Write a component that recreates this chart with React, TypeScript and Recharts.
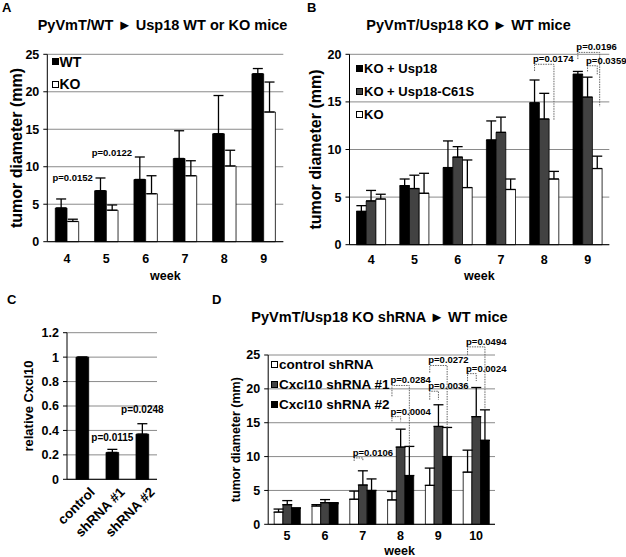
import React from 'react'
import { BarChart, Bar, XAxis, YAxis, CartesianGrid, ErrorBar, LabelList } from 'recharts'

const FONT = '"Liberation Sans", Arial, Helvetica, sans-serif'
const GRID = '#8a8a8a'
const DARK = '#424242'

// A: PyVmT/WT into Usp18 WT or KO mice
const weeksA = ['4', '5', '6', '7', '8', '9']
const wtA = [4.5, 6.8, 8.3, 11.1, 14.4, 22.4]
const wtErrA = [1.2, 1.7, 3.0, 3.7, 5.1, 0.7]
const koA = [2.7, 4.2, 6.4, 8.8, 10.1, 17.3]
const koErrA = [0.3, 0.7, 2.4, 2.0, 2.1, 4.0]

// B: PyVmT/Usp18 KO into WT mice
const weeksB = ['4', '5', '6', '7', '8', '9']
const usp18B = [3.5, 6.2, 8.1, 11.0, 14.9, 17.9]
const usp18ErrB = [0.6, 0.7, 2.8, 2.0, 2.4, 0.3]
const c61sB = [4.6, 5.9, 9.2, 11.8, 13.2, 15.5]
const c61sErrB = [1.1, 1.4, 1.1, 1.6, 2.7, 2.1]
const koB = [4.8, 5.4, 6.0, 5.8, 6.9, 8.0]
const koErrB = [0.5, 2.1, 2.9, 1.1, 0.8, 1.3]

// C: relative Cxcl10
const groupsC = ['control', 'shRNA #1', 'shRNA #2']
const cxcl10C = [1.0, 0.22, 0.37]
const cxcl10ErrC = [0, 0.025, 0.085]

// D: PyVmT/Usp18 KO shRNA into WT mice
const weeksD = ['5', '6', '7', '8', '9', '10']
const ctrlD = [1.8, 2.7, 3.7, 3.6, 5.75, 7.7]
const ctrlErrD = [0.45, 0.2, 1.2, 1.25, 2.55, 3.25]
const sh1D = [2.9, 3.2, 5.8, 11.4, 14.45, 15.9]
const sh1ErrD = [0.6, 0.45, 2.1, 2.65, 3.2, 4.3]
const sh2D = [2.4, 3.05, 5.0, 7.2, 10.0, 12.4]
const sh2ErrD = [0, 0.15, 1.7, 4.3, 4.3, 4.5]

type Bracket = { cat: string; from: number; to: number; top: number; fromEnd: number; toEnd: number; text: string }
type Note = { cat: string; slot: number; y: number; text: string; anchor: 'start' | 'middle' }

const notesA: Note[] = [
  { cat: '4', slot: -0.75, y: 8.1, text: 'p=0.0152', anchor: 'start' },
  { cat: '5', slot: -0.75, y: 11.45, text: 'p=0.0122', anchor: 'start' },
]

const bracketsB: Bracket[] = [
  { cat: '8', from: 0, to: 2, top: 18.95, fromEnd: 18.25, toEnd: 13.1, text: 'p=0.0174' },
  { cat: '9', from: 0, to: 2.25, top: 20.2, fromEnd: 19.5, toEnd: 14.5, text: 'p=0.0196' },
  { cat: '9', from: 1, to: 2, top: 18.8, fromEnd: 18.2, toEnd: 17.8, text: 'p=0.0359' },
]

const notesC: Note[] = [
  { cat: 'shRNA #1', slot: 0, y: 0.314, text: 'p=0.0115', anchor: 'middle' },
  { cat: 'shRNA #2', slot: 0, y: 0.54, text: 'p=0.0248', anchor: 'middle' },
]

const bracketsD: Bracket[] = [
  { cat: '7', from: 0, to: 1, top: 9.8, fromEnd: 9.35, toEnd: 9.35, text: 'p=0.0106' },
  { cat: '8', from: 0, to: 1, top: 15.9, fromEnd: 15.2, toEnd: 15.2, text: 'p=0.0004' },
  { cat: '8', from: 0, to: 2, top: 20.5, fromEnd: 18.9, toEnd: 11.5, text: 'p=0.0284' },
  { cat: '9', from: 0, to: 1, top: 19.65, fromEnd: 18.4, toEnd: 18.4, text: 'p=0.0036' },
  { cat: '9', from: 0, to: 2, top: 23.45, fromEnd: 22.4, toEnd: 14.3, text: 'p=0.0272' },
  { cat: '10', from: 0, to: 1, top: 22.25, fromEnd: 21.15, toEnd: 21.15, text: 'p=0.0024' },
  { cat: '10', from: 0, to: 2, top: 26.2, fromEnd: 25.0, toEnd: 16.95, text: 'p=0.0494' },
]

const rowsA = weeksA.map((cat, i) => ({
  cat, wt: wtA[i], wtErr: [0, wtErrA[i]], ko: koA[i], koErr: [0, koErrA[i]],
}))
const rowsB = weeksB.map((cat, i) => ({
  cat,
  usp18: usp18B[i], usp18Err: [0, usp18ErrB[i]],
  c61s: c61sB[i], c61sErr: [0, c61sErrB[i]],
  ko: koB[i], koErr: [0, koErrB[i]],
}))
const rowsC = groupsC.map((cat, i) => ({ cat, val: cxcl10C[i], valErr: [0, cxcl10ErrC[i]] }))
const rowsD = weeksD.map((cat, i) => ({
  cat,
  ctrl: ctrlD[i], ctrlErr: [0, ctrlErrD[i]],
  sh1: sh1D[i], sh1Err: [0, sh1ErrD[i]],
  sh2: sh2D[i], sh2Err: [0, sh2ErrD[i]],
}))

// draws p-value notes and dotted brackets, positioned from the first bar of each group
function annotate(rows: any[], key: string, brackets: Bracket[], notes: Note[], size: number) {
  return (props: any) => {
    const vb = props.viewBox || props
    const row = rows.find(r => r.cat === props.value)
    if (!row || !vb || vb.height == null) return null
    const base = vb.y + vb.height
    const k = vb.height / row[key]
    const yOf = (v: number) => base - v * k
    const xOf = (s: number) => vb.x + vb.width * (s + 0.5)
    const txt = { fontSize: size, fontWeight: 'bold' as const, fontFamily: FONT, fill: '#000' }
    const out: React.ReactNode[] = []
    brackets.filter(b => b.cat === row.cat).forEach((b, i) => {
      const x1 = xOf(b.from)
      const x2 = xOf(b.to)
      const yt = yOf(b.top)
      out.push(
        <path key={'b' + i} d={`M${x1},${yOf(b.fromEnd)}V${yt}H${x2}V${yOf(b.toEnd)}`}
          fill="none" stroke="#666" strokeWidth={1} strokeDasharray="1.5 1" />
      )
      out.push(<text key={'bt' + i} x={x1 - 1.5} y={yt - 2} {...txt}>{b.text}</text>)
    })
    notes.filter(n => n.cat === row.cat).forEach((n, i) => {
      out.push(<text key={'n' + i} x={xOf(n.slot)} y={yOf(n.y)} textAnchor={n.anchor} {...txt}>{n.text}</text>)
    })
    return <g>{out}</g>
  }
}

const tickStyle = { fontSize: 12.5, fontWeight: 'bold', fill: '#000', fontFamily: FONT }
const axisLine = { stroke: '#000', strokeWidth: 1 }

function yLabel(value: string, offset: number, size: number) {
  return {
    value, angle: -90, position: 'insideLeft', offset,
    style: { textAnchor: 'middle', fontSize: size, fontWeight: 'bold', fill: '#000', fontFamily: FONT },
  } as any
}
function weekLabel(offset: number, dx = 0) {
  return {
    value: 'week', position: 'insideBottom', offset, dx,
    style: { fontSize: 12.5, fontWeight: 'bold', fill: '#000', fontFamily: FONT },
  } as any
}

// axis line with category-boundary tick marks (Excel style); the category axis sits right under it
function edgeAxis(n: number) {
  return (
    <XAxis xAxisId="a" type="number" domain={[0, n]} ticks={Array.from({ length: n + 1 }, (_, i) => i)}
      interval={0} height={1} axisLine={axisLine} tickLine={{ stroke: '#000' }} tickSize={4} tick={false} />
  )
}

function Legend({ items, left, top, gap, size }: { items: { label: string; fill: string }[]; left: number; top: number; gap: number; size: number }) {
  return (
    <div style={{ position: 'absolute', left, top, fontSize: size, fontWeight: 'bold', fontFamily: FONT }}>
      {items.map(it => (
        <div key={it.label} style={{ height: gap, lineHeight: gap + 'px', display: 'flex', alignItems: 'center', whiteSpace: 'nowrap' }}>
          <span style={{ display: 'inline-block', width: 5, height: 5, background: it.fill, border: '0.8px solid #000', marginRight: 1 }} />
          {it.label}
        </div>
      ))}
    </div>
  )
}

function Title({ text, cx, cy }: { text: string; cx: number; cy: number }) {
  return (
    <div style={{ position: 'absolute', left: cx - 160, top: cy - 9, width: 320, textAlign: 'center', fontSize: 14.5, lineHeight: '18px', fontWeight: 'bold', fontFamily: FONT, whiteSpace: 'nowrap' }}>
      {text}
    </div>
  )
}

function Letter({ text, left, top }: { text: string; left: number; top: number }) {
  return (
    <div style={{ position: 'absolute', left, top, fontSize: 13, lineHeight: '13px', fontWeight: 'bold', fontFamily: FONT }}>{text}</div>
  )
}

function RotTick(props: any) {
  const { x, y, payload } = props
  const px = x + 7
  const py = y + 3
  return (
    <text x={px} y={py} transform={`rotate(-45, ${px}, ${py})`} textAnchor="end" dy="0.7em" {...tickStyle} fontSize={13.5}>
      {payload.value}
    </text>
  )
}

const catAxis = { xAxisId: 'b', dataKey: 'cat', tickLine: false, tickSize: 0, axisLine: false } as any

export default function App() {
  return (
    <div style={{ position: 'fixed', left: 0, top: 0, width: 626, height: 557, background: '#fff', fontFamily: FONT, overflow: 'hidden' }}>
      <Letter text="A" left={2} top={1} />
      <Letter text="B" left={307} top={1} />
      <Letter text="C" left={7} top={293} />
      <Letter text="D" left={212} top={293} />

      <Title text="PyVmT/WT ► Usp18 WT or KO mice" cx={162.5} cy={25} />
      <Title text="PyVmT/Usp18 KO ► WT mice" cx={468.5} cy={25} />
      <Title text="PyVmT/Usp18 KO shRNA ► WT mice" cx={379.5} cy={317} />

      <div style={{ position: 'absolute', left: 0, top: 0 }}>
        <BarChart width={300} height={290} data={rowsA} margin={{ top: 54.3, right: 16.7, left: 0, bottom: 8.3 }} barGap={0} barSize={11.7}>
          <CartesianGrid xAxisId="b" vertical={false} stroke={GRID} />
          {edgeAxis(weeksA.length)}
          <XAxis {...catAxis} height={39} tickMargin={11} tick={tickStyle} label={weekLabel(2.2)} />
          <YAxis width={47.3} domain={[0, 25]} ticks={[0, 5, 10, 15, 20, 25]} tickSize={4} tickMargin={4} axisLine={axisLine} tickLine={axisLine} tick={tickStyle} label={yLabel('tumor diameter (mm)', 16, 16)} />
          <Bar xAxisId="b" dataKey="wt" fill="#000" stroke="#000" strokeWidth={0.8} isAnimationActive={false}>
            <ErrorBar dataKey="wtErr" width={5} stroke="#000" strokeWidth={1.3} />
            <LabelList dataKey="cat" content={annotate(rowsA, 'wt', [], notesA, 9.5)} />
          </Bar>
          <Bar xAxisId="b" dataKey="ko" fill="#fff" stroke="#000" strokeWidth={0.8} isAnimationActive={false}>
            <ErrorBar dataKey="koErr" width={5} stroke="#000" strokeWidth={1.3} />
          </Bar>
        </BarChart>
      </div>
      <Legend items={[{ label: 'WT', fill: '#000' }, { label: 'KO', fill: '#fff' }]} left={51.5} top={50.5} gap={22.6} size={14} />

      <div style={{ position: 'absolute', left: 300, top: 0 }}>
        <BarChart width={326} height={290} data={rowsB} margin={{ top: 54.3, right: 16.7, left: 0, bottom: 5.3 }} barGap={0} barSize={9.7}>
          <CartesianGrid xAxisId="b" vertical={false} stroke={GRID} />
          {edgeAxis(weeksB.length)}
          <XAxis {...catAxis} height={39} tickMargin={9} tick={tickStyle} label={weekLabel(5.2)} />
          <YAxis width={49.5} domain={[0, 20]} ticks={[0, 5, 10, 15, 20]} tickSize={4} tickMargin={4} axisLine={axisLine} tickLine={axisLine} tick={tickStyle} label={yLabel('tumor diameter (mm)', 15, 16)} />
          <Bar xAxisId="b" dataKey="usp18" fill="#000" stroke="#000" strokeWidth={0.8} isAnimationActive={false}>
            <ErrorBar dataKey="usp18Err" width={5} stroke="#000" strokeWidth={1.3} />
            <LabelList dataKey="cat" content={annotate(rowsB, 'usp18', bracketsB, [], 9.5)} />
          </Bar>
          <Bar xAxisId="b" dataKey="c61s" fill={DARK} stroke="#000" strokeWidth={0.8} isAnimationActive={false}>
            <ErrorBar dataKey="c61sErr" width={5} stroke="#000" strokeWidth={1.3} />
          </Bar>
          <Bar xAxisId="b" dataKey="ko" fill="#fff" stroke="#000" strokeWidth={0.8} isAnimationActive={false}>
            <ErrorBar dataKey="koErr" width={5} stroke="#000" strokeWidth={1.3} />
          </Bar>
        </BarChart>
      </div>
      <Legend items={[{ label: 'KO + Usp18', fill: '#000' }, { label: 'KO + Usp18-C61S', fill: DARK }, { label: 'KO', fill: '#fff' }]} left={356} top={57} gap={23} size={13} />

      <div style={{ position: 'absolute', left: 0, top: 290 }}>
        <BarChart width={200} height={267} data={rowsC} margin={{ top: 42.7, right: 43, left: 0, bottom: 7.7 }} barGap={0} barSize={12.7}>
          <CartesianGrid xAxisId="b" vertical={false} stroke={GRID} />
          {edgeAxis(groupsC.length)}
          <XAxis {...catAxis} height={69} tickMargin={3} tick={<RotTick />} interval={0} />
          <YAxis width={67} domain={[0, 1.2]} ticks={[0, 0.2, 0.4, 0.6, 0.8, 1, 1.2]} tickSize={4} tickMargin={4} axisLine={axisLine} tickLine={axisLine} tick={tickStyle} label={yLabel('relative Cxcl10', 28, 13)} />
          <Bar xAxisId="b" dataKey="val" fill="#000" stroke="#000" strokeWidth={0.8} isAnimationActive={false}>
            <ErrorBar dataKey="valErr" width={5} stroke="#000" strokeWidth={1.3} />
            <LabelList dataKey="cat" content={annotate(rowsC, 'val', [], notesC, 10)} />
          </Bar>
        </BarChart>
      </div>

      <div style={{ position: 'absolute', left: 200, top: 290 }}>
        <BarChart width={426} height={267} data={rowsD} margin={{ top: 65, right: 131, left: 0, bottom: 0.7 }} barGap={0} barSize={8.7}>
          <CartesianGrid xAxisId="b" vertical={false} stroke={GRID} />
          {edgeAxis(weeksD.length)}
          <XAxis {...catAxis} height={31} tickMargin={6} tick={tickStyle} label={weekLabel(1.8, 18)} />
          <YAxis width={68.2} domain={[0, 25]} ticks={[0, 5, 10, 15, 20, 25]} tickSize={4} tickMargin={4} axisLine={axisLine} tickLine={axisLine} tick={tickStyle} label={yLabel('tumor diameter (mm)', 35.5, 12.5)} />
          <Bar xAxisId="b" dataKey="ctrl" fill="#fff" stroke="#000" strokeWidth={0.8} isAnimationActive={false}>
            <ErrorBar dataKey="ctrlErr" width={5} stroke="#000" strokeWidth={1.3} />
            <LabelList dataKey="cat" content={annotate(rowsD, 'ctrl', bracketsD, [], 9.5)} />
          </Bar>
          <Bar xAxisId="b" dataKey="sh1" fill={DARK} stroke="#000" strokeWidth={0.8} isAnimationActive={false}>
            <ErrorBar dataKey="sh1Err" width={5} stroke="#000" strokeWidth={1.3} />
          </Bar>
          <Bar xAxisId="b" dataKey="sh2" fill="#000" stroke="#000" strokeWidth={0.8} isAnimationActive={false}>
            <ErrorBar dataKey="sh2Err" width={5} stroke="#000" strokeWidth={1.3} />
          </Bar>
        </BarChart>
      </div>
      <Legend items={[{ label: 'control shRNA', fill: '#fff' }, { label: 'Cxcl10 shRNA #1', fill: DARK }, { label: 'Cxcl10 shRNA #2', fill: '#000' }]} left={271} top={354.5} gap={20} size={13.5} />
    </div>
  )
}
